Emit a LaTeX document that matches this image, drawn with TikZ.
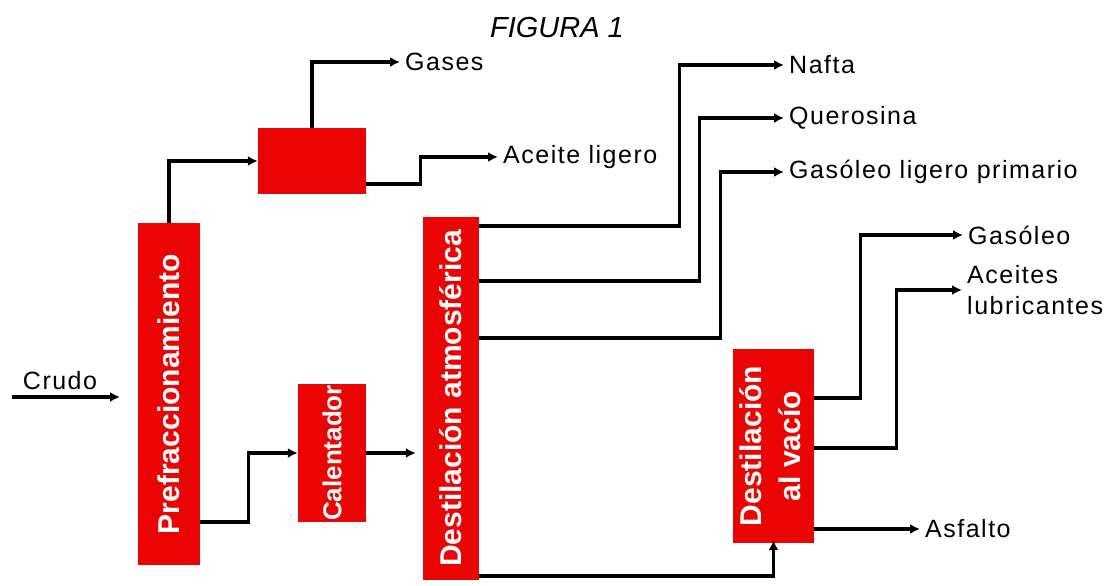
\documentclass[tikz,border=0pt]{standalone}
\usepackage{fontspec}
\setmainfont{Liberation Sans}
\usetikzlibrary{arrows.meta}
\definecolor{rojo}{RGB}{234,4,4}
\begin{document}
\begin{tikzpicture}[x=1pt,y=-1pt,
 caja/.style={fill=rojo,inner sep=0pt,text=white,font=\fontsize{30}{39}\selectfont\bfseries},
 flujo/.style={line width=3.2pt,-{Latex[length=10pt,width=10pt]}},
 etiq/.style={anchor=west,inner xsep=5pt,inner ysep=0pt,align=left,font=\fontsize{25}{31}\selectfont\addfontfeatures{LetterSpace=6}}]
 \useasboundingbox (0,0) rectangle (1112,586);
 \node[font=\fontsize{29}{34}\selectfont\itshape] (titulo) at (557,28) {FIGURA 1};
 \node[caja,minimum width=62pt,minimum height=342pt] (pref) at (169,394) {\rotatebox{90}{Prefraccionamiento}};
 \node[caja,minimum width=108pt,minimum height=66pt] (sep) at (312,161) {};
 \node[caja,minimum width=68pt,minimum height=138pt,font=\fontsize{26}{30}\selectfont\bfseries] (cal) at (332,453) {\rotatebox{90}{Calentador}};
 \node[caja,minimum width=56pt,minimum height=363pt] (atm) at (451,398.5) {\rotatebox{90}{Destilación atmosférica}};
 \node[caja,minimum width=81pt,minimum height=194pt] (vac) at (773.5,446) {\rotatebox{90}{\begin{tabular}{@{}c@{}}Destilación\\al vacío\end{tabular}}};
 \node[etiq] (gases) at (400,62) {Gases};
 \node[etiq] (aceite) at (498,157) {Aceite ligero};
 \node[etiq] (nafta) at (784,65) {Nafta};
 \node[etiq] (querosina) at (784,118) {Querosina};
 \node[etiq] (glp) at (784,172) {Gasóleo ligero primario};
 \node[etiq] (gasoleo) at (963,235) {Gasóleo};
 \node[etiq] (lubric) at (962,290) {Aceites\\lubricantes};
 \node[etiq] (asfalto) at (920,529) {Asfalto};
 \coordinate (entrada) at (12,397);
 \draw[flujo] (entrada) -- node[etiq,anchor=south,inner ysep=6pt,xshift=-6pt] (crudo) {Crudo} ++(108,0);
 \draw[flujo] (pref.north) |- (sep.west);
 \draw[flujo] (sep.north) |- (gases.west);
 \draw[flujo] ([yshift=-23pt]sep.east) -- ++(54,0) |- (aceite.west);
 \draw[flujo] ([yshift=-128pt]pref.east) -- ++(48,0) |- (cal.west);
 \draw[flujo,shorten >=7pt] (cal.east) -- (atm.west |- cal.east);
 \draw[flujo] ([yshift=172.5pt]atm.east) -- ++(200,0) |- (nafta.west);
 \draw[flujo] ([yshift=117.5pt]atm.east) -- ++(220,0) |- (querosina.west);
 \draw[flujo] ([yshift=60.5pt]atm.east) -- ++(241,0) |- (glp.west);
 \draw[flujo,shorten >=-3pt] ([yshift=-177.5pt]atm.east) -| (vac.south);
 \draw[flujo] ([yshift=48pt]vac.east) -- ++(46,0) |- (gasoleo.west);
 \draw[flujo] ([yshift=-2pt]vac.east) -- ++(82,0) |- (lubric.west);
 \draw[flujo] ([yshift=-83pt]vac.east) -- (asfalto.west);
\end{tikzpicture}
\end{document}
